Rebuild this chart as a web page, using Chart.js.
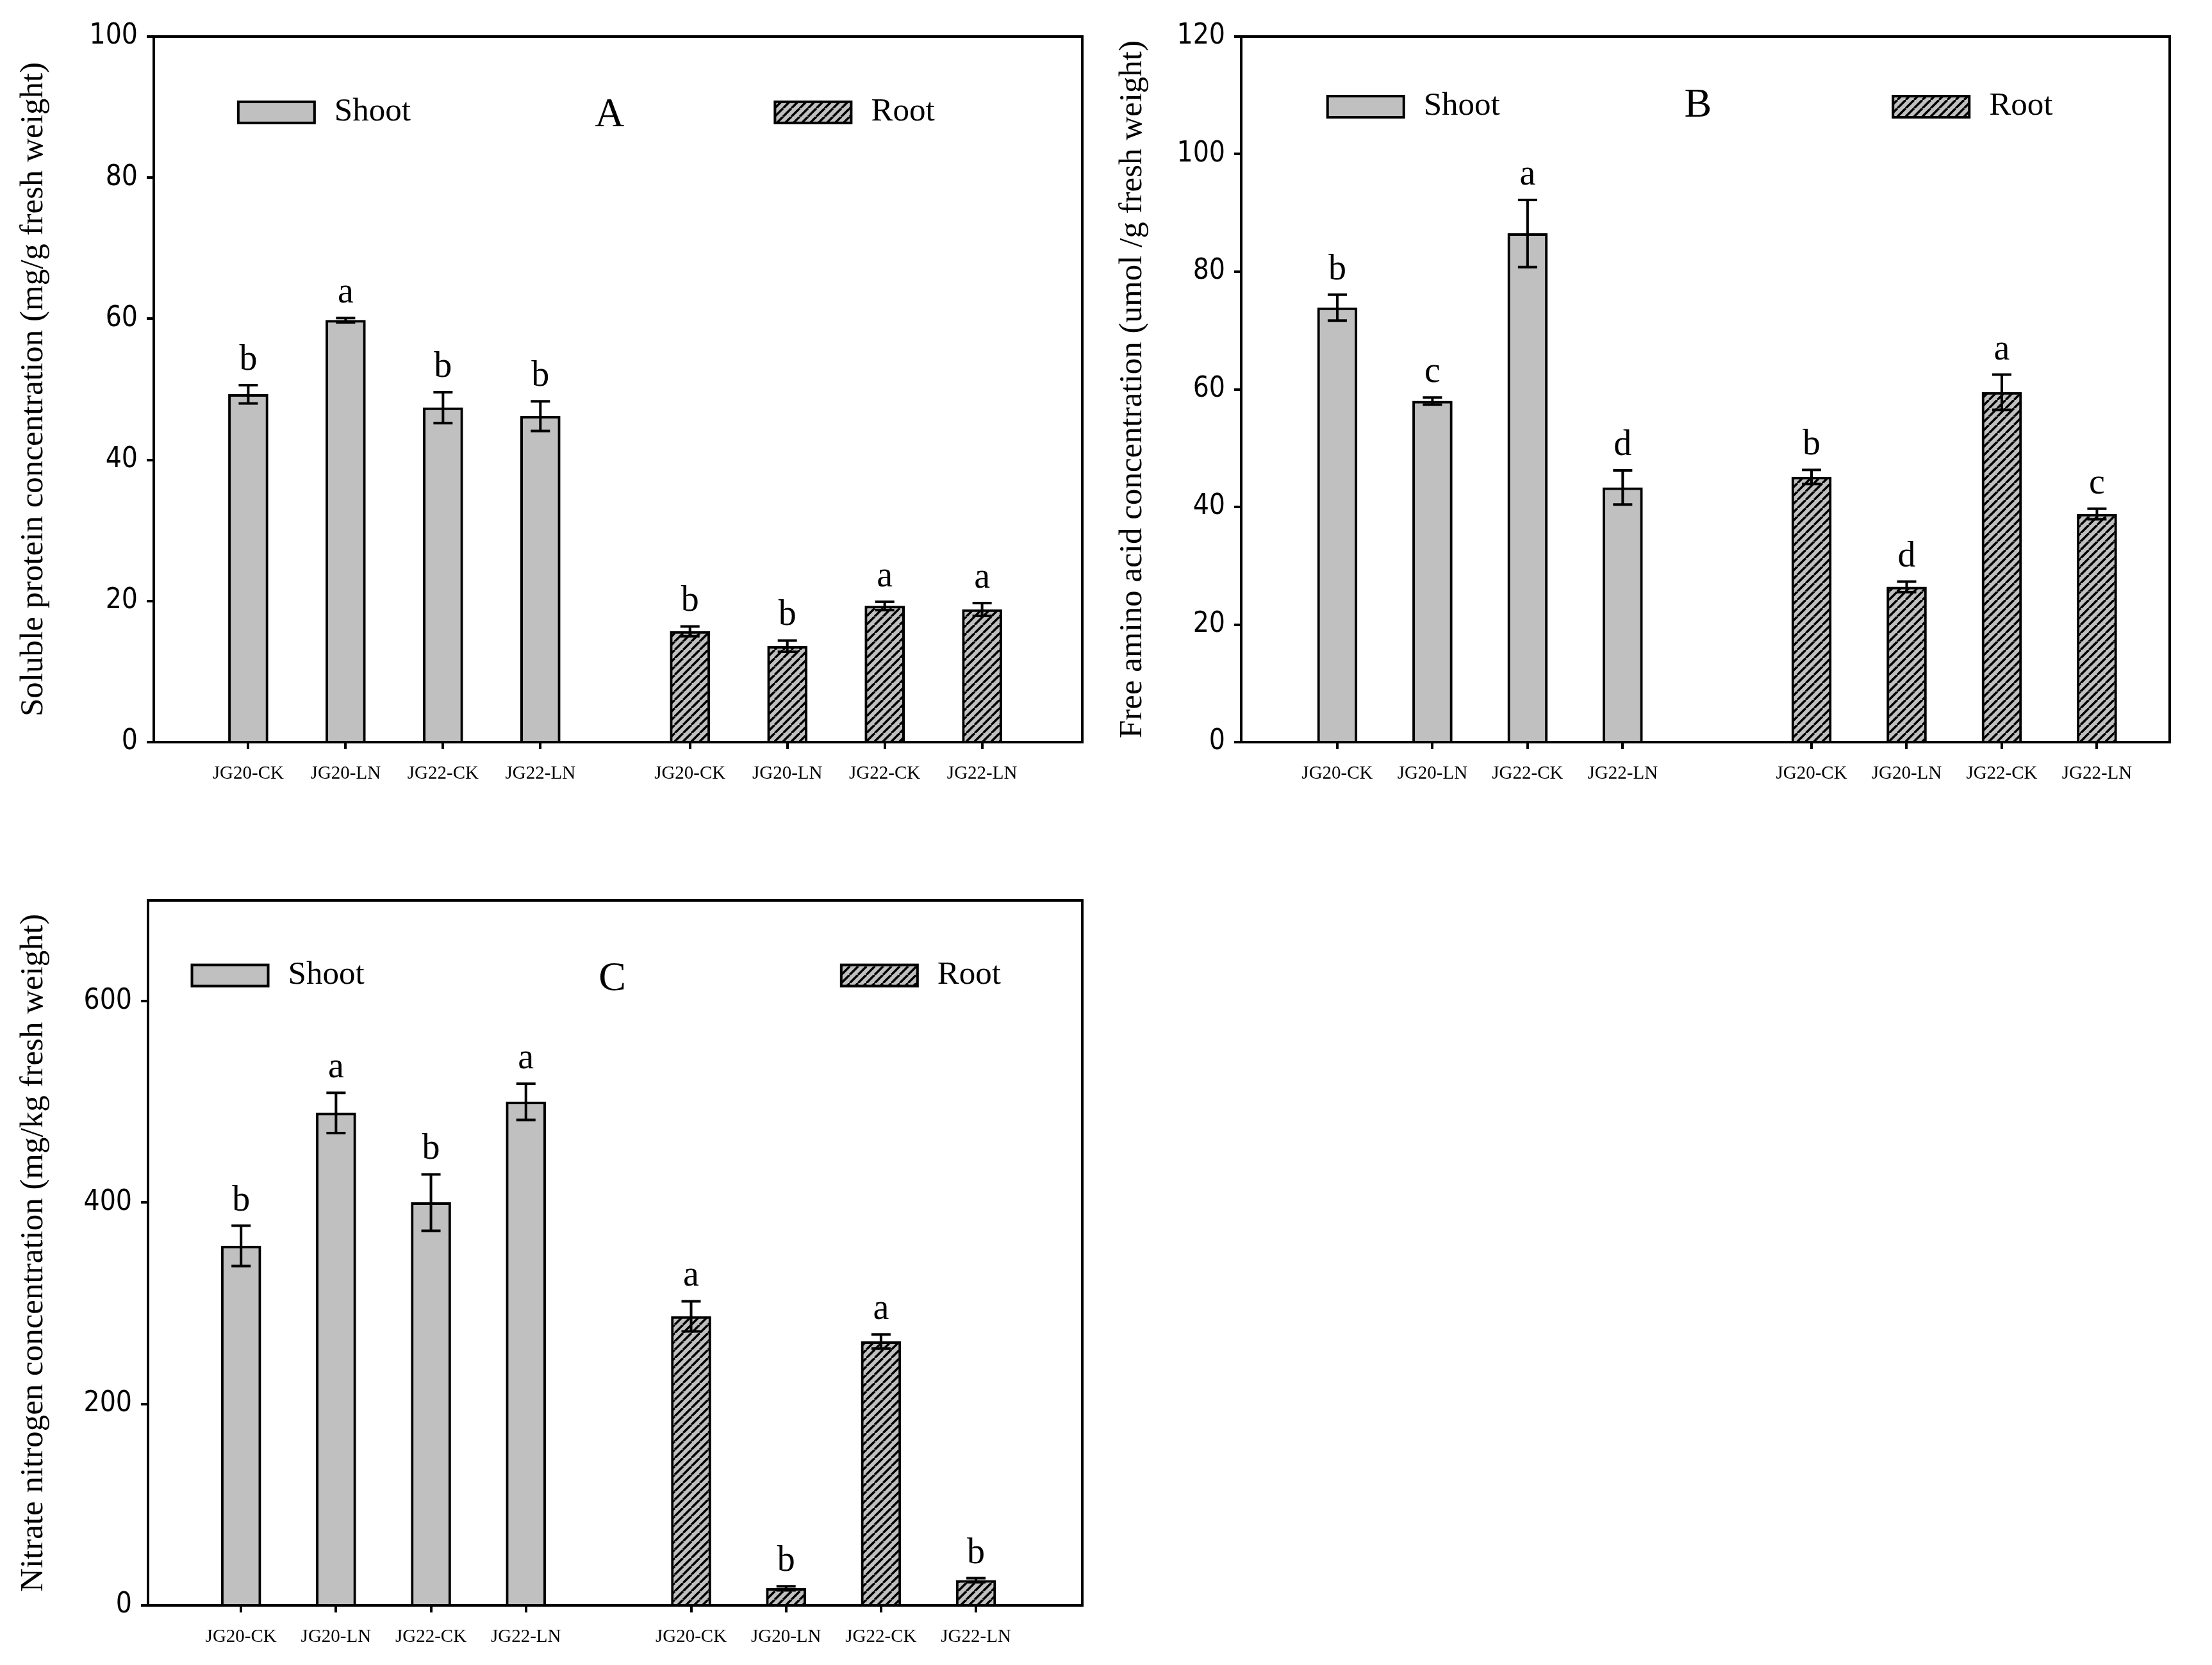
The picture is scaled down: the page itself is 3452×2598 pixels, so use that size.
<!DOCTYPE html>
<html>
<head>
<meta charset="utf-8">
<script src="https://cdn.jsdelivr.net/npm/chart.js@4.4.1/dist/chart.umd.min.js"></script>
<style>
html, body { margin: 0; padding: 0; background: #fff; }
body { width: 3452px; height: 2598px; position: relative; overflow: hidden; }
.panel { position: absolute; }
</style>
</head>
<body>
<div class="panel" style="left:0;top:0;width:1726px;height:1300px"><canvas id="chartA"></canvas></div>
<div class="panel" style="left:1726px;top:0;width:1726px;height:1300px"><canvas id="chartB"></canvas></div>
<div class="panel" style="left:0;top:1300px;width:1726px;height:1298px"><canvas id="chartC"></canvas></div>
<script>
// categories and series
const groups = ['JG20-CK', 'JG20-LN', 'JG22-CK', 'JG22-LN'];
const seriesNames = ['Shoot', 'Root'];

// A - soluble protein
const proteinShoot = [49.3, 59.8, 47.4, 46.2];
const proteinShootErr = [1.3, 0.3, 2.2, 2.1];
const proteinShootSig = ['b', 'a', 'b', 'b'];
const proteinRoot = [15.7, 13.6, 19.3, 18.8];
const proteinRootErr = [0.7, 0.8, 0.6, 0.9];
const proteinRootSig = ['b', 'b', 'a', 'a'];
const proteinTicks = [0, 20, 40, 60, 80, 100];

// B - free amino acid
const aminoShoot = [73.9, 58.0, 86.5, 43.3];
const aminoShootErr = [2.2, 0.6, 5.7, 2.9];
const aminoShootSig = ['b', 'c', 'a', 'd'];
const aminoRoot = [45.1, 26.4, 59.5, 38.8];
const aminoRootErr = [1.2, 0.9, 3.0, 0.9];
const aminoRootSig = ['b', 'd', 'a', 'c'];
const aminoTicks = [0, 20, 40, 60, 80, 100, 120];

// C - nitrate nitrogen
const nitrateShoot = [357, 489, 400, 500];
const nitrateShootErr = [20, 20, 28, 18];
const nitrateShootSig = ['b', 'a', 'b', 'a'];
const nitrateRoot = [287, 17, 262, 25];
const nitrateRootErr = [15, 2, 7, 2];
const nitrateRootSig = ['a', 'b', 'a', 'b'];
const nitrateTicks = [0, 200, 400, 600];

const SERIF = "'Liberation Serif', 'Times New Roman', serif";
const NARROW = "'Liberation Sans Narrow', 'DejaVu Sans Condensed', 'Liberation Sans', sans-serif";
const GREY = '#c0c0c0';

function hatch() {
    const s = 13;
    const c = document.createElement('canvas');
    c.width = s; c.height = s;
    const g = c.getContext('2d');
    g.fillStyle = GREY;
    g.fillRect(0, 0, s, s);
    g.strokeStyle = '#000';
    g.lineWidth = 3.5;
    for (let k = -1; k <= 1; k++) {
        g.beginPath();
        g.moveTo(k * s, s);
        g.lineTo(k * s + s, 0);
        g.stroke();
    }
    return g.createPattern(c, 'repeat');
}
const rootFill = hatch();

function decoPlugin(p) {
    return {
        id: 'deco',
        afterDatasetsDraw(chart) {
            const ctx = chart.ctx, y = chart.scales.y, a = chart.chartArea;
            ctx.save();
            ctx.strokeStyle = '#000';
            ctx.fillStyle = '#000';
            ctx.lineWidth = 4;
            // frame top and right
            ctx.beginPath();
            ctx.moveTo(a.left, a.top);
            ctx.lineTo(a.right, a.top);
            ctx.lineTo(a.right, a.bottom);
            ctx.stroke();
            // error bars and letters
            chart.data.datasets.forEach((ds, di) => {
                chart.getDatasetMeta(di).data.forEach((bar, i) => {
                    const v = ds.data[i].y, e = ds.err[i];
                    const t = y.getPixelForValue(v + e), b = y.getPixelForValue(v - e);
                    ctx.beginPath();
                    ctx.moveTo(bar.x, t); ctx.lineTo(bar.x, b);
                    ctx.moveTo(bar.x - 15, t); ctx.lineTo(bar.x + 15, t);
                    ctx.moveTo(bar.x - 15, b); ctx.lineTo(bar.x + 15, b);
                    ctx.stroke();
                    ctx.font = '56px ' + SERIF;
                    ctx.textAlign = 'center';
                    ctx.textBaseline = 'alphabetic';
                    ctx.fillText(ds.sig[i], bar.x, t - 24);
                });
            });
            // legend inside plot
            const w = a.right - a.left, h = a.bottom - a.top;
            const ly = a.top + p.legendY * h;
            [[p.shootX, GREY, seriesNames[0]], [p.rootX, rootFill, seriesNames[1]]].forEach(([fx, fill, name]) => {
                const bx = a.left + fx * w;
                ctx.fillStyle = fill;
                ctx.fillRect(bx, ly - 16, 119, 33);
                ctx.strokeRect(bx, ly - 16, 119, 33);
                ctx.fillStyle = '#000';
                ctx.font = '51px ' + SERIF;
                ctx.textAlign = 'left';
                ctx.textBaseline = 'middle';
                ctx.fillText(name, bx + 150, ly);
            });
            ctx.font = '64px ' + SERIF;
            ctx.textAlign = 'center';
            ctx.textBaseline = 'middle';
            ctx.fillText(p.letter, a.left + p.letterX * w, a.top + p.letterY * h);
            ctx.restore();
        }
    };
}

function buildPanel(id, p) {
    const shootX = groups.map((g, i) => i + 1);
    const rootX = groups.map((g, i) => i + p.rootStart);
    const tickX = shootX.concat(rootX);
    const tickLabels = groups.concat(groups);
    return new Chart(document.getElementById(id), {
        type: 'bar',
        data: {
            datasets: [{
                label: seriesNames[0],
                data: p.shoot.map((v, i) => ({ x: shootX[i], y: v })),
                err: p.shootErr,
                sig: p.shootSig,
                backgroundColor: GREY,
                borderColor: '#000',
                borderWidth: 4,
                grouped: false,
                barThickness: 62
            }, {
                label: seriesNames[1],
                data: p.root.map((v, i) => ({ x: rootX[i], y: v })),
                err: p.rootErr,
                sig: p.rootSig,
                backgroundColor: rootFill,
                borderColor: '#000',
                borderWidth: 4,
                grouped: false,
                barThickness: 62
            }]
        },
        options: {
            responsive: true,
            maintainAspectRatio: false,
            animation: false,
            devicePixelRatio: 1,
            layout: { padding: { top: p.padTop, right: p.padRight, left: 0, bottom: 0 } },
            plugins: { legend: { display: false }, tooltip: { enabled: false } },
            scales: {
                x: {
                    type: 'linear',
                    offset: false,
                    min: p.xMin,
                    max: p.xMax,
                    afterBuildTicks: s => { s.ticks = tickX.map(v => ({ value: v })); },
                    afterFit: s => { s.height = p.xAxisH; },
                    ticks: {
                        callback: (v, i) => tickLabels[i],
                        font: { family: SERIF, size: 29 },
                        color: '#000',
                        padding: 21,
                        maxRotation: 0,
                        autoSkip: false
                    },
                    grid: { offset: false, drawOnChartArea: false, tickLength: 11, color: '#000', lineWidth: 4 },
                    border: { display: true, color: '#000', width: 4 }
                },
                y: {
                    min: 0,
                    max: p.yMax,
                    afterBuildTicks: s => { s.ticks = p.yTicks.map(v => ({ value: v })); },
                    afterFit: s => { s.width = p.yAxisW; },
                    ticks: { font: { family: NARROW, size: 44 }, color: '#000', padding: 14 },
                    grid: { drawOnChartArea: false, tickLength: 11, color: '#000', lineWidth: 4 },
                    border: { display: true, color: '#000', width: 4 },
                    title: {
                        display: true,
                        text: p.yTitle,
                        font: { family: SERIF, size: 51 },
                        color: '#000',
                        padding: { top: p.titlePad, bottom: 0 }
                    }
                }
            }
        },
        plugins: [decoPlugin(p)]
    });
}

buildPanel('chartA', {
    shoot: proteinShoot, shootErr: proteinShootErr, shootSig: proteinShootSig,
    root: proteinRoot, rootErr: proteinRootErr, rootSig: proteinRootSig,
    yTicks: proteinTicks, yMax: 100,
    yTitle: 'Soluble protein concentration (mg/g fresh weight)', letter: 'A',
    xMin: 0.03, xMax: 9.565, rootStart: 5.536,
    yAxisW: 240, xAxisH: 142, padTop: 57, padRight: 37, titlePad: 22,
    shootX: 0.091, rootX: 0.669, legendY: 0.107, letterX: 0.491, letterY: 0.112
});

buildPanel('chartB', {
    shoot: aminoShoot, shootErr: aminoShootErr, shootSig: aminoShootSig,
    root: aminoRoot, rootErr: aminoRootErr, rootSig: aminoRootSig,
    yTicks: aminoTicks, yMax: 120,
    yTitle: 'Free amino acid concentration (umol /g fresh weight)', letter: 'B',
    xMin: -0.01, xMax: 9.75, rootStart: 5.985,
    yAxisW: 211, xAxisH: 142, padTop: 57, padRight: 66, titlePad: 11,
    shootX: 0.093, rootX: 0.702, legendY: 0.099, letterX: 0.492, letterY: 0.098
});

buildPanel('chartC', {
    shoot: nitrateShoot, shootErr: nitrateShootErr, shootSig: nitrateShootSig,
    root: nitrateRoot, rootErr: nitrateRootErr, rootSig: nitrateRootSig,
    yTicks: nitrateTicks, yMax: 700,
    yTitle: 'Nitrate nitrogen concentration (mg/kg fresh weight)', letter: 'C',
    xMin: 0.02, xMax: 9.86, rootStart: 5.74,
    yAxisW: 231, xAxisH: 93, padTop: 105, padRight: 37, titlePad: 22,
    shootX: 0.047, rootX: 0.742, legendY: 0.106, letterX: 0.497, letterY: 0.112
});
</script>
</body>
</html>
